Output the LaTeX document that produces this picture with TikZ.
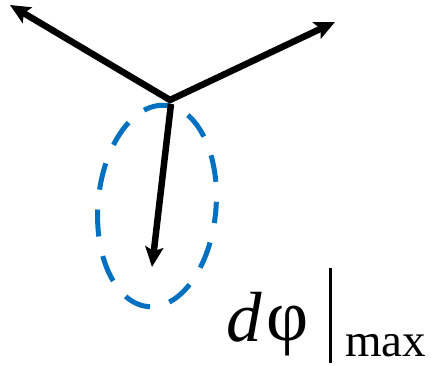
\documentclass[tikz,border=0pt]{standalone}
\usepackage{fontspec}
\setmainfont{Liberation Serif}
\usetikzlibrary{arrows.meta,positioning}
\definecolor{Ink}{HTML}{000000}
\definecolor{Loop}{HTML}{0070C0}
\tikzset{head/.tip={Stealth[length=20pt,width=18pt,inset=4pt]},vec/.style={-head,line width=6.5pt,draw=Ink},ring/.style={draw=Loop,line width=5pt,dash pattern=on 27pt off 20pt,dash phase=15pt},lab/.style={inner sep=0pt,text=Ink}}

\begin{document}
\begin{tikzpicture}[x=1pt,y=-1pt]
\useasboundingbox (0,0) rectangle (431,366);
% junction and arrow ends
\coordinate (o) at (170,100);
\coordinate (s) at (171,104);
\coordinate (nw) at (10,5);
\coordinate (ne) at (335,22);
\coordinate (dn) at (152,267);
\coordinate (c) at (157,206);
\draw[ring,rotate around={-5:(c)}] (c) ellipse [x radius=59,y radius=101];
\draw[vec,head-head] (nw)--(o)--(ne);
\draw[vec] (s)--(dn);
% label
\node[lab,anchor=base west,font=\fontsize{71}{71}\selectfont\itshape] (d) at (226,341) {d};
\node[lab,anchor=base west,font=\fontsize{73}{73}\selectfont] (phi) at (266,340) {φ};
\coordinate (bartop) at (330,268);
\coordinate (barbot) at (330,363);
\draw[Ink,line width=3pt] (bartop)--(barbot);
\node[lab,anchor=base west,font=\fontsize{47}{47}\selectfont] (max) at (345,356) {max};
\end{tikzpicture}
\end{document}
